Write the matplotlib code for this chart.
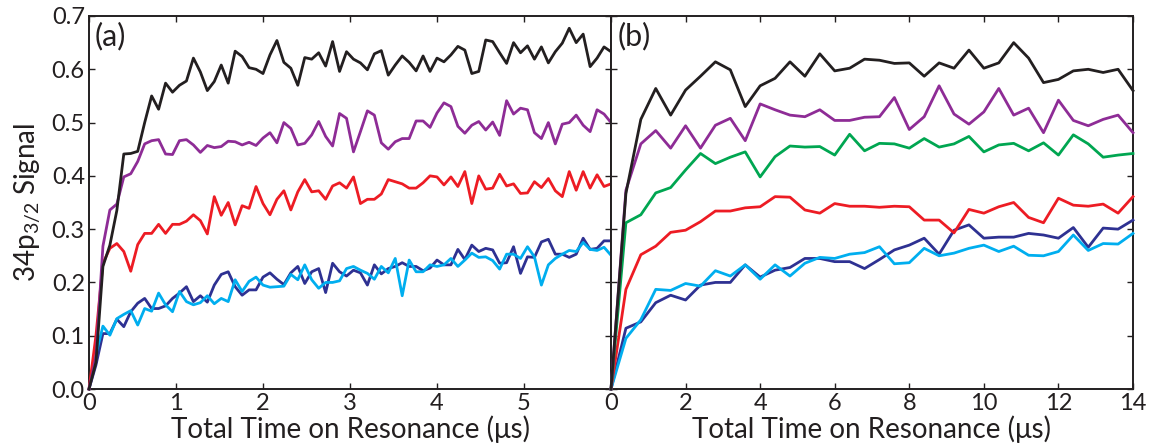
import numpy as np
import matplotlib
matplotlib.use("Agg")
import matplotlib.pyplot as plt

plt.rcParams['font.family'] = ['Lato', 'DejaVu Sans']
plt.rcParams['mathtext.fontset'] = 'custom'
plt.rcParams['mathtext.rm'] = 'Lato'
plt.rcParams['mathtext.it'] = 'Lato:italic'

# ---- panel (a): time step 0.08 us ----
dt_a = 0.08
black_a = [0.0, 0.05, 0.23, 0.27, 0.335, 0.441, 0.442, 0.446, 0.50, 0.55,
           0.525, 0.574, 0.557, 0.570, 0.578, 0.621, 0.595, 0.560, 0.577, 0.608,
           0.574, 0.634, 0.624, 0.603, 0.600, 0.592, 0.627, 0.654, 0.613, 0.602,
           0.570, 0.622, 0.619, 0.631, 0.606, 0.652, 0.596, 0.633, 0.619, 0.612,
           0.599, 0.629, 0.635, 0.589, 0.608, 0.625, 0.613, 0.597, 0.625, 0.596,
           0.621, 0.614, 0.627, 0.643, 0.636, 0.592, 0.596, 0.655, 0.652, 0.631,
           0.611, 0.650, 0.631, 0.644, 0.619, 0.642, 0.612, 0.633, 0.649, 0.677,
           0.650, 0.666, 0.605, 0.621, 0.642, 0.633]
purple_a = [0.0, 0.06, 0.268, 0.336, 0.347, 0.398, 0.404, 0.427, 0.46, 0.466,
            0.468, 0.441, 0.440, 0.466, 0.468, 0.458, 0.444, 0.457, 0.453, 0.455,
            0.465, 0.464, 0.458, 0.463, 0.457, 0.471, 0.481, 0.462, 0.500, 0.489,
            0.458, 0.461, 0.477, 0.502, 0.474, 0.456, 0.517, 0.508, 0.445, 0.483,
            0.522, 0.514, 0.462, 0.450, 0.464, 0.470, 0.470, 0.503, 0.503, 0.491,
            0.518, 0.537, 0.530, 0.493, 0.480, 0.495, 0.502, 0.486, 0.501, 0.476,
            0.541, 0.516, 0.527, 0.524, 0.481, 0.470, 0.500, 0.460, 0.497, 0.500,
            0.514, 0.495, 0.483, 0.524, 0.516, 0.500]
red_a = [0.0, 0.10, 0.236, 0.264, 0.273, 0.258, 0.221, 0.271, 0.292, 0.292,
         0.309, 0.292, 0.309, 0.309, 0.315, 0.327, 0.316, 0.291, 0.361, 0.326,
         0.350, 0.308, 0.344, 0.339, 0.380, 0.348, 0.327, 0.356, 0.372, 0.336,
         0.370, 0.393, 0.370, 0.372, 0.356, 0.381, 0.387, 0.377, 0.398, 0.348,
         0.356, 0.356, 0.366, 0.393, 0.389, 0.385, 0.377, 0.377, 0.387, 0.400,
         0.398, 0.383, 0.398, 0.380, 0.408, 0.348, 0.400, 0.375, 0.377, 0.403,
         0.381, 0.385, 0.367, 0.368, 0.389, 0.378, 0.395, 0.372, 0.361, 0.408,
         0.373, 0.408, 0.377, 0.402, 0.380, 0.385]
navy_a = [0.0, 0.045, 0.104, 0.104, 0.131, 0.117, 0.145, 0.161, 0.170, 0.151,
          0.151, 0.156, 0.170, 0.180, 0.192, 0.164, 0.175, 0.163, 0.195, 0.215,
          0.220, 0.192, 0.176, 0.186, 0.186, 0.210, 0.218, 0.206, 0.196, 0.218,
          0.230, 0.198, 0.220, 0.226, 0.181, 0.236, 0.220, 0.212, 0.223, 0.218,
          0.195, 0.233, 0.216, 0.226, 0.230, 0.237, 0.230, 0.230, 0.222, 0.227,
          0.242, 0.233, 0.233, 0.262, 0.243, 0.270, 0.258, 0.264, 0.261, 0.236,
          0.237, 0.267, 0.217, 0.248, 0.247, 0.276, 0.281, 0.253, 0.253, 0.247,
          0.253, 0.283, 0.262, 0.264, 0.278, 0.278]
cyan_a = [0.0, 0.065, 0.118, 0.101, 0.132, 0.140, 0.147, 0.120, 0.151, 0.146,
          0.180, 0.158, 0.145, 0.183, 0.164, 0.158, 0.162, 0.175, 0.160, 0.170,
          0.164, 0.205, 0.183, 0.202, 0.210, 0.195, 0.191, 0.192, 0.193, 0.215,
          0.205, 0.233, 0.205, 0.189, 0.200, 0.200, 0.203, 0.226, 0.230, 0.223,
          0.217, 0.206, 0.230, 0.218, 0.245, 0.175, 0.242, 0.220, 0.220, 0.233,
          0.230, 0.233, 0.245, 0.230, 0.242, 0.255, 0.247, 0.248, 0.241, 0.225,
          0.253, 0.253, 0.245, 0.267, 0.248, 0.195, 0.233, 0.245, 0.253, 0.260,
          0.258, 0.275, 0.262, 0.260, 0.266, 0.251]

# ---- panel (b): time step 0.4 us ----
dt_b = 0.4
black_b = [0.0, 0.367, 0.506, 0.564, 0.514, 0.561, 0.587, 0.614, 0.599, 0.530,
           0.569, 0.583, 0.614, 0.587, 0.629, 0.597, 0.602, 0.619, 0.617, 0.611,
           0.612, 0.587, 0.612, 0.602, 0.636, 0.602, 0.612, 0.650, 0.621, 0.575,
           0.581, 0.597, 0.600, 0.594, 0.600, 0.560]
purple_b = [0.0, 0.373, 0.460, 0.485, 0.452, 0.494, 0.452, 0.495, 0.508, 0.466,
            0.535, 0.524, 0.514, 0.511, 0.524, 0.504, 0.504, 0.510, 0.511, 0.547,
            0.487, 0.511, 0.569, 0.516, 0.497, 0.520, 0.564, 0.514, 0.527, 0.481,
            0.542, 0.504, 0.494, 0.506, 0.514, 0.481]
green_b = [0.0, 0.312, 0.327, 0.368, 0.378, 0.411, 0.442, 0.423, 0.435, 0.445,
           0.398, 0.436, 0.456, 0.454, 0.455, 0.439, 0.478, 0.447, 0.461, 0.460,
           0.452, 0.470, 0.454, 0.460, 0.474, 0.445, 0.458, 0.461, 0.447, 0.462,
           0.439, 0.477, 0.460, 0.435, 0.439, 0.442]
red_b = [0.0, 0.187, 0.252, 0.268, 0.294, 0.298, 0.314, 0.334, 0.334, 0.340,
         0.342, 0.361, 0.360, 0.336, 0.330, 0.348, 0.343, 0.343, 0.341, 0.343,
         0.342, 0.317, 0.317, 0.293, 0.337, 0.330, 0.342, 0.350, 0.322, 0.312,
         0.358, 0.345, 0.343, 0.347, 0.330, 0.361]
navy_b = [0.0, 0.114, 0.126, 0.162, 0.176, 0.167, 0.195, 0.200, 0.200, 0.233,
          0.210, 0.223, 0.228, 0.245, 0.245, 0.239, 0.239, 0.226, 0.243, 0.261,
          0.270, 0.283, 0.253, 0.298, 0.308, 0.283, 0.285, 0.285, 0.292, 0.289,
          0.283, 0.303, 0.266, 0.302, 0.300, 0.317]
cyan_b = [0.0, 0.095, 0.130, 0.187, 0.185, 0.198, 0.193, 0.222, 0.212, 0.233,
          0.206, 0.233, 0.212, 0.236, 0.247, 0.245, 0.253, 0.256, 0.267, 0.235,
          0.237, 0.264, 0.250, 0.255, 0.264, 0.270, 0.258, 0.268, 0.251, 0.250,
          0.258, 0.289, 0.260, 0.273, 0.272, 0.292]

C_BLACK = '#231f20'
C_PURPLE = '#8e2c96'
C_RED = '#ed1c24'
C_NAVY = '#2e3192'
C_CYAN = '#00aeef'
C_GREEN = '#00a651'

W, H = 1159, 448
fig = plt.figure(figsize=(W / 100, H / 100), dpi=100)
ax_a = fig.add_axes([89 / W, (H - 389) / H, 522 / W, 373 / H])
ax_b = fig.add_axes([611 / W, (H - 389) / H, 522 / W, 373 / H])

LW = 2.0
t_a = np.arange(len(black_a)) * dt_a
for y, c in [(navy_a, C_NAVY), (cyan_a, C_CYAN), (red_a, C_RED),
             (purple_a, C_PURPLE), (black_a, C_BLACK)]:
    ax_a.plot(t_a, y, color=c, lw=LW, clip_on=False, zorder=3)

t_b = np.arange(len(black_b)) * dt_b
for y, c in [(navy_b, C_NAVY), (cyan_b, C_CYAN), (red_b, C_RED),
             (green_b, C_GREEN), (purple_b, C_PURPLE), (black_b, C_BLACK)]:
    ax_b.plot(t_b, y, color=c, lw=LW, clip_on=False, zorder=3)

TICK_FS = 17
LABEL_FS = 20
for ax in (ax_a, ax_b):
    ax.set_ylim(0, 0.7)
    ax.set_yticks(np.arange(0, 0.71, 0.1))
    ax.tick_params(direction='in', top=True, right=True, length=4, width=1.0,
                   labelsize=TICK_FS, colors='#231f20', pad=3)
    for s in ax.spines.values():
        s.set_linewidth(1.4)
        s.set_color('#231f20')
    ax.set_xlabel('Total Time on Resonance (\u03bcs)', fontsize=LABEL_FS,
                  color='#231f20', labelpad=1)

ax_a.set_xlim(0, 6)
ax_a.set_xticks([0, 1, 2, 3, 4, 5])
ax_a.set_yticklabels(['%.1f' % v for v in np.arange(0, 0.71, 0.1)])
ax_a.set_ylabel(r'34p$_{3/2}$ Signal', fontsize=LABEL_FS, color='#231f20', labelpad=6)

ax_b.set_xlim(0, 14)
ax_b.set_xticks(np.arange(0, 15, 2))
ax_b.tick_params(labelleft=False)

ax_a.text(0.010, 0.985, '(a)', transform=ax_a.transAxes, fontsize=22,
          va='top', ha='left', color='#231f20')
ax_b.text(0.012, 0.985, '(b)', transform=ax_b.transAxes, fontsize=22,
          va='top', ha='left', color='#231f20')

fig.savefig('out.png', dpi=100)
